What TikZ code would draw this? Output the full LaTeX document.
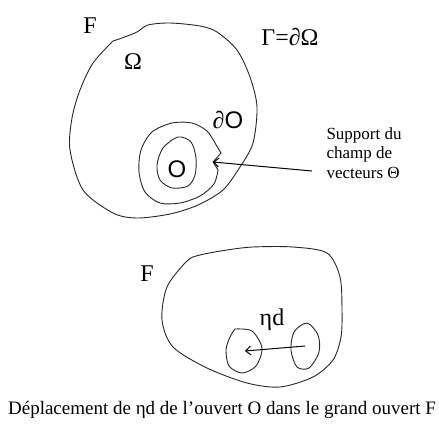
\documentclass[tikz,border=0pt]{standalone}
\usepackage{fontspec}
\setmainfont{Liberation Serif}
\newfontfamily\sansfam{Liberation Sans}
\usetikzlibrary{arrows.meta}

\begin{document}
\begin{tikzpicture}[x=1pt, y=-1pt,
  setline/.style={line width=0.9pt, black!85},
  vecarrow/.style={line width=1pt, -{Straight Barb[length=5pt,width=9pt]}},
  biglab/.style={font=\fontsize{24}{24}\selectfont},
  txtlab/.style={font=\fontsize{17}{19.5}\selectfont, align=left, anchor=west}]
\useasboundingbox (0,0) rectangle (439,434);
% Draw the big open set Omega
\draw[setline] plot[smooth] coordinates {(113,41) (122,38) (137,32) (148,25) (170,23)
  (200,26) (217,32) (237,50) (250,77) (257,107) (253,143) (240,167) (223,190) (198,205)
  (170,214) (137,218) (113,213) (83,190) (70,150) (72,118) (80,90) (93,63) (113,41)};
% Draw the boundary of O
\draw[setline] plot[smooth] coordinates {(218,170) (214,184) (200,196) (180,203)
  (160,203) (145,192) (139,172) (141,150) (152,132) (172,123) (192,123) (207,131) (215,143)}
  -- (221,153) -- (213,162) -- cycle;
% Draw the open set O
\draw[setline] plot[smooth cycle] coordinates {(178,137) (191,142) (196,158) (195,175)
  (188,186) (172,188) (160,180) (157,165) (163,148)};
% Labels of the top picture
\node[biglab] (F1) at (90,26) {F};
\node[biglab] (Om) at (133,62) {Ω};
\node[biglab] (Ga) at (290,37) {Γ=∂Ω};
\node[biglab] (dO) at (228,120) {∂{\sansfam O}};
\node[biglab] (O) at (177,169) {\sansfam O};
\node[txtlab] (supp) at (323,153) {Support du\\champ de\\vecteurs Θ};
% Draw arrow to the support
\coordinate (tail1) at (312,171);
\coordinate (tip1) at (213,162);
\draw[vecarrow] (tail1) -- (tip1);
% Draw the grand open set F
\draw[setline] plot[smooth cycle] coordinates {(200,255) (227,250) (253,247) (293,247)
  (327,253) (340,277) (342,310) (341,337) (333,360) (313,377) (280,387) (247,383) (207,368)
  (173,347) (162,320) (167,287) (187,261)};
% Draw the two positions of O
\draw[setline] plot[smooth] coordinates {(235,329) (252,331) (262,348) (256,366)
  (242,373) (229,366) (226,350) (230,337) (235,329)};
\draw[setline] plot[smooth cycle] coordinates {(307,323) (318,335) (319,352) (309,368)
  (297,367) (291,350) (294,332)};
% Labels of the bottom picture
\node[biglab] (F2) at (147,274) {F};
\node[biglab] (eta) at (272,320) {ηd};
% Draw the displacement
\coordinate (tail2) at (305,346);
\coordinate (tip2) at (245,351);
\draw[vecarrow] (tail2) -- (tip2);
% Caption
\node[font=\fontsize{19}{19}\selectfont] (cap) at (222,410) {Déplacement de ηd de l’ouvert O dans le grand ouvert F};
\end{tikzpicture}
\end{document}
